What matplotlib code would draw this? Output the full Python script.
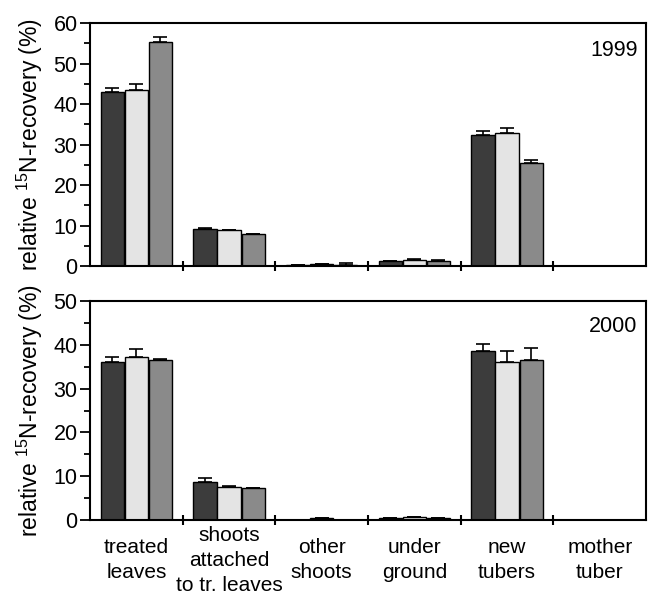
import numpy as np
import matplotlib
matplotlib.use("Agg")
import matplotlib.pyplot as plt
from matplotlib.ticker import MultipleLocator, FixedLocator

plt.rcParams['font.family'] = ['Liberation Sans', 'DejaVu Sans']
plt.rcParams['mathtext.fontset'] = 'custom'
plt.rcParams['mathtext.rm'] = 'Liberation Sans'
plt.rcParams['mathtext.it'] = 'Liberation Sans'

categories = ['treated\nleaves', 'shoots\nattached\nto tr. leaves', 'other\nshoots',
              'under\nground', 'new\ntubers', 'mother\ntuber']

# 1999, three treatments per category
vals_1999 = [
    [42.9, 9.2, 0.3, 1.2, 32.3, 0.0],
    [43.4, 8.9, 0.5, 1.5, 32.9, 0.0],
    [55.3, 7.8, 0.2, 1.3, 25.5, 0.0],
]
err_1999 = [
    [1.1, 0.1, 0.0, 0.0, 1.1, 0.0],
    [1.5, 0.1, 0.1, 0.1, 1.2, 0.0],
    [1.4, 0.1, 0.5, 0.1, 0.6, 0.0],
]
# 2000
vals_2000 = [
    [36.1, 8.7, 0.05, 0.5, 38.5, 0.0],
    [37.2, 7.6, 0.5, 0.7, 36.2, 0.0],
    [36.5, 7.3, 0.05, 0.5, 36.6, 0.0],
]
err_2000 = [
    [1.1, 1.0, 0.0, 0.0, 1.7, 0.0],
    [1.8, 0.1, 0.0, 0.1, 2.4, 0.0],
    [0.3, 0.1, 0.0, 0.0, 2.7, 0.0],
]

colors = ['#3c3c3c', '#e4e4e4', '#8a8a8a']

fig = plt.figure(figsize=(6.48, 5.95), dpi=100)
ax1 = fig.add_axes([0.139, 0.553, 0.858, 0.408])
ax2 = fig.add_axes([0.139, 0.126, 0.858, 0.368])

x = np.arange(len(categories))
w = 0.26

def draw(ax, vals, errs, ymax, year):
    for i in range(3):
        ax.bar(x + (i - 1) * w, vals[i], width=w - 0.01, color=colors[i],
               edgecolor='black', linewidth=1.0, zorder=2,
               yerr=[np.zeros(len(x)), errs[i]], capsize=5,
               error_kw=dict(elinewidth=1.2, capthick=1.2, ecolor='black'))
    ax.set_xlim(-0.5, 5.5)
    ax.set_ylim(0, ymax)
    ax.yaxis.set_major_locator(MultipleLocator(10))
    ax.yaxis.set_minor_locator(MultipleLocator(5))
    ax.tick_params(axis='y', which='major', length=7, width=1.3, labelsize=15.5, pad=2)
    ax.tick_params(axis='y', which='minor', length=4, width=1.3)
    ax.set_xticks(x)
    ax.xaxis.set_minor_locator(FixedLocator(np.arange(0.5, 5.5, 1.0)))
    ax.tick_params(axis='x', which='major', length=0)
    ax.tick_params(axis='x', which='minor', direction='inout', length=7, width=1.5)
    for s in ax.spines.values():
        s.set_linewidth(1.5)
    ax.set_ylabel('relative $^{15}$N-recovery (%)', fontsize=16.5, labelpad=6)
    ax.text(0.985, 0.93, year, transform=ax.transAxes, ha='right', va='top', fontsize=15.5)

draw(ax1, vals_1999, err_1999, 60, '1999')
draw(ax2, vals_2000, err_2000, 50, '2000')

ax1.set_xticklabels([])
ax2.set_xticklabels(categories, fontsize=15, linespacing=1.4)
ax2.tick_params(axis='x', which='major', pad=29)
for lab in ax2.get_xticklabels():
    lab.set_va('center')

fig.savefig('out.png', dpi=100)
